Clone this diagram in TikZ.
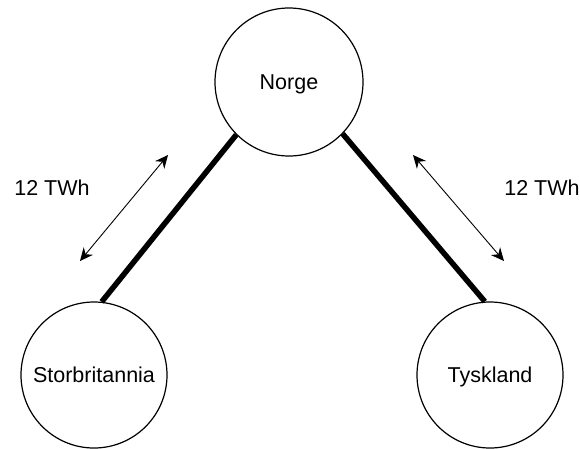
\documentclass[tikz,border=0pt]{standalone}
\usepackage{fontspec}
\setmainfont{Liberation Sans}
\usetikzlibrary{arrows.meta}
\begin{document}
\begin{tikzpicture}[x=1pt,y=-1pt,
    land/.style={circle,draw,line width=1.2pt,inner sep=0pt,text depth=0pt,
        font=\fontsize{21.5}{26}\selectfont},
    kabel/.style={line width=5.5pt},
    flyt/.style={line width=0.9pt,{Stealth[length=13pt,width=12pt]}-{Stealth[length=13pt,width=12pt]}},
    tekst/.style={font=\fontsize{21.5}{26}\selectfont}]
    \useasboundingbox (0,0) rectangle (580,448);

    % 绘制三个国家
    \node [land,minimum size=148pt] (norge) at (289,82) {Norge};
    \node [land,minimum size=146pt] (gb) at (94,375) {Storbritannia};
    \node [land,minimum size=146pt] (de) at (490,375) {Tyskland};

    % 绘制电缆
    \draw [kabel] (norge.225) -- (gb.84);
    \draw [kabel] (norge.-44) -- (de.94);

    % 绘制能量流向
    \coordinate (gbA) at (168,155);
    \coordinate (gbB) at (80,261);
    \coordinate (deA) at (413,155);
    \coordinate (deB) at (504,261);
    \draw [flyt] (gbA) -- (gbB);
    \draw [flyt] (deA) -- (deB);

    % 标注
    \node [tekst] (gbtwh) at (52,188) {12 TWh};
    \node [tekst] (detwh) at (542,188) {12 TWh};
\end{tikzpicture}
\end{document}
